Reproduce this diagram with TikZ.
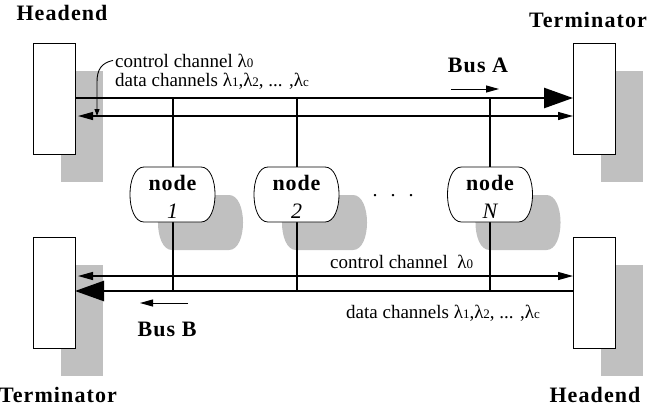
\documentclass[tikz,border=0pt]{standalone}
\usepackage{fontspec}
\setmainfont{Liberation Serif}
\usetikzlibrary{arrows.meta,backgrounds}
\definecolor{shadowgray}{RGB}{192,192,192}
% wavelength with a small index set on the baseline
\newcommand\lam[1]{λ{\fontsize{13pt}{13pt}\selectfont #1}}

\begin{document}
\begin{tikzpicture}[x=1pt,y=-1pt,
  unitbox/.style={draw, line width=0.8pt, fill=white, minimum width=42pt,
    minimum height=111pt, inner sep=0pt, outer sep=0pt},
  station/.style={minimum width=85pt, minimum height=55pt, inner sep=0pt, outer sep=0pt},
  heading/.style={font=\fontsize{22pt}{22pt}\selectfont\bfseries\addfontfeatures{LetterSpace=5},
    anchor=base, inner sep=0pt},
  stationword/.style={font=\fontsize{22pt}{22pt}\selectfont\bfseries\addfontfeatures{LetterSpace=4},
    anchor=base, inner sep=0pt},
  stationnum/.style={font=\fontsize{22pt}{22pt}\selectfont\itshape, anchor=base, inner sep=0pt},
  chan/.style={font=\fontsize{19pt}{19pt}\selectfont, anchor=base west, inner sep=0pt},
  busthick/.style={line width=2.6pt},
  busthin/.style={line width=1.2pt},
  drop/.style={line width=2pt},
  bigtip/.tip={Triangle[length=29pt,width=20pt]},
  smalltip/.tip={Triangle[length=15pt,width=8pt]},
  dirtip/.tip={Triangle[length=13pt,width=7pt]},
]
\useasboundingbox (0,0) rectangle (652,407);

% bus heights
\coordinate (yA)  at (0,98);
\coordinate (yAt) at (0,116);
\coordinate (yBt) at (0,276);
\coordinate (yB)  at (0,291);

% headend / terminator units
\node[unitbox] (hlA) at (54,98.5)  {};
\node[unitbox] (tmA) at (594,98.5) {};
\node[unitbox] (tmB) at (54,292.5) {};
\node[unitbox] (hlB) at (594,292.5) {};

% stations
\node[station] (p1) at (172.5,194.5) {};
\node[station] (p2) at (296.5,194.5) {};
\node[station] (pN) at (490,194.5) {};

% drop shadows
\begin{pgfonlayer}{background}
  \foreach \u in {hlA,tmA,tmB,hlB}
    \fill[shadowgray] ([shift={(28,27.5)}]\u.north west) rectangle ([shift={(28,27.5)}]\u.south east);
  \foreach \p in {p1,p2,pN}
    \fill[shadowgray] ([shift={(28,28)},xshift=14pt]\p.north west)
      -- ([shift={(28,28)},xshift=-14pt]\p.north east)
      .. controls ([shift={(28,28)},xshift=4.7pt]\p.north east)
              and ([shift={(28,28)},xshift=4.7pt]\p.south east)
      .. ([shift={(28,28)},xshift=-14pt]\p.south east)
      -- ([shift={(28,28)},xshift=14pt]\p.south west)
      .. controls ([shift={(28,28)},xshift=-4.7pt]\p.south west)
              and ([shift={(28,28)},xshift=-4.7pt]\p.north west)
      .. ([shift={(28,28)},xshift=14pt]\p.north west) -- cycle;
\end{pgfonlayer}

% Bus A
\draw[busthick, -bigtip] (hlA.east |- yA) -- (tmA.west |- yA);
\draw[busthin, smalltip-smalltip, shorten <=3pt] (hlA.east |- yAt) -- (tmA.west |- yAt);
% Bus B
\draw[busthick, -bigtip] (hlB.west |- yB) -- (tmB.east |- yB);
\draw[busthin, smalltip-smalltip, shorten <=3pt] (tmB.east |- yBt) -- (hlB.west |- yBt);

% station taps and outlines
\foreach \p in {p1,p2,pN} {
  \draw[drop] (\p.north |- yA) -- (\p.north);
  \draw[drop] (\p.south) -- (\p.south |- yB);
  \draw[line width=0.8pt, fill=white] ([xshift=14pt]\p.north west)
      -- ([xshift=-14pt]\p.north east)
      .. controls ([xshift=4.7pt]\p.north east) and ([xshift=4.7pt]\p.south east)
      .. ([xshift=-14pt]\p.south east)
      -- ([xshift=14pt]\p.south west)
      .. controls ([xshift=-4.7pt]\p.south west) and ([xshift=-4.7pt]\p.north west)
      .. ([xshift=14pt]\p.north west) -- cycle;
}
\node[stationword] (p1w) at (172.5,190) {node};
\node[stationnum]  (p1n) at (172.5,218) {1};
\node[stationword] (p2w) at (296.5,190) {node};
\node[stationnum]  (p2n) at (296.5,218) {2};
\node[stationword] (pNw) at (490,190) {node};
\node[stationnum]  (pNn) at (490,218) {N};
\node[font=\fontsize{20pt}{20pt}\selectfont, anchor=base, inner sep=0pt] (dots)
  at (393,196) {.\hspace{13pt}.\hspace{13pt}.};

% unit titles
\node[heading] (tHA) at (62,20)   {Headend};
\node[heading] (tTA) at (588,27)  {Terminator};
\node[heading] (tTB) at (58,402)  {Terminator};
\node[heading] (tHB) at (595,402) {Headend};

% channel labels
\node[chan] (ctlA) at (115,67) {control channel \lam{0}};
\node[chan] (datA) at (115,86) {data channels \lam{1},\lam{2}, ... ,\lam{c}};
\node[chan] (ctlB) at (330,268) {control channel\ \ \lam{0}};
\node[chan] (datB) at (346,318) {data channels \lam{1},\lam{2}, ... ,\lam{c}};

\coordinate (tapA) at (97,116);
\draw[line width=0.9pt, -{Triangle[length=7pt,width=5pt]}]
  ([xshift=-2pt]ctlA.west) .. controls (101,63) and (97,70) .. (97,82) -- (tapA);

% bus directions
\node[heading] (busA) at (478,72)  {Bus A};
\node[heading] (busB) at (167,336) {Bus B};
\coordinate (dA1) at (451,89);
\coordinate (dA2) at (499,89);
\coordinate (dB1) at (188,303);
\coordinate (dB2) at (140,303);
\draw[line width=1pt, -dirtip] (dA1) -- (dA2);
\draw[line width=1pt, -dirtip] (dB1) -- (dB2);
\end{tikzpicture}
\end{document}
